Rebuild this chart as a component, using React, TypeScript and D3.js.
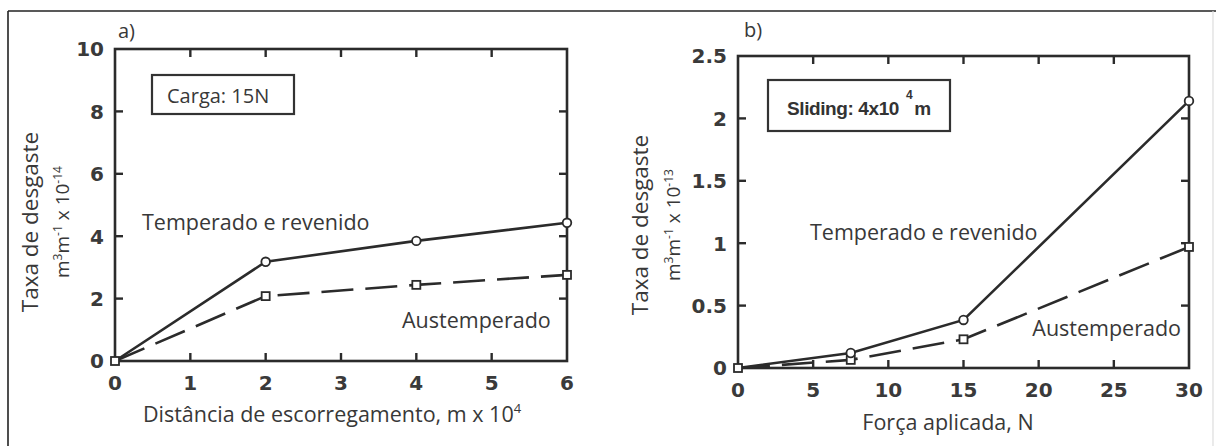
import React from "react";
import * as d3 from "d3";

// Panel a
const distA = [0, 2, 4, 6];
const temperadoA = [0, 3.18, 3.85, 4.43];
const austemperadoA = [0, 2.08, 2.44, 2.76];
const xTicksA = [0, 1, 2, 3, 4, 5, 6];
const yTicksA = [0, 2, 4, 6, 8, 10];

// Panel b
const forceB = [0, 7.5, 15, 30];
const temperadoB = [0, 0.12, 0.385, 2.14];
const austemperadoB = [0, 0.065, 0.23, 0.97];
const xTicksB = [0, 5, 10, 15, 20, 25, 30];
const yTicksB = [0, 0.5, 1, 1.5, 2, 2.5];
const yTickLabelsB = ["0", "0.5", "1", "1.5", "2", "2.5"];

const TICK_FONT = "'DejaVu Sans', 'Liberation Sans', Arial, sans-serif";
const BOX_FONT = "'Liberation Sans', Arial, sans-serif";
const TEXT_FONT = "'Open Sans', 'Noto Sans', sans-serif";
const INK = "#2b2b2b";
const TXT = "#383838";

type PanelProps = {
  left: number; right: number; top: number; bottom: number;
  xDomain: [number, number]; yDomain: [number, number];
  xTicks: number[]; yTicks: number[]; yLabels: string[];
  xs: number[]; s1: number[]; s2: number[];
};

function Panel(p: PanelProps) {
  const x = d3.scaleLinear().domain(p.xDomain).range([p.left, p.right]);
  const y = d3.scaleLinear().domain(p.yDomain).range([p.bottom, p.top]);
  const line = d3.line<[number, number]>().x(d => x(d[0])).y(d => y(d[1]));
  const d1 = p.xs.map((v, i) => [v, p.s1[i]] as [number, number]);
  const d2 = p.xs.map((v, i) => [v, p.s2[i]] as [number, number]);
  const tl = 8;
  return (
    <g>
      <rect x={p.left} y={p.top} width={p.right - p.left} height={p.bottom - p.top}
        fill="none" stroke={INK} strokeWidth={2.6} />
      {p.xTicks.slice(1, -1).map(t => (
        <g key={"xt" + t}>
          <line x1={x(t)} x2={x(t)} y1={p.bottom} y2={p.bottom - tl} stroke={INK} strokeWidth={2.4} />
          <line x1={x(t)} x2={x(t)} y1={p.top} y2={p.top + tl} stroke={INK} strokeWidth={2.4} />
        </g>
      ))}
      {p.yTicks.slice(1, -1).map(t => (
        <g key={"yt" + t}>
          <line x1={p.left} x2={p.left + tl} y1={y(t)} y2={y(t)} stroke={INK} strokeWidth={2.4} />
          <line x1={p.right} x2={p.right - tl} y1={y(t)} y2={y(t)} stroke={INK} strokeWidth={2.4} />
        </g>
      ))}
      {p.xTicks.map(t => (
        <text key={"xl" + t} x={x(t)} y={p.bottom + 29} textAnchor="middle"
          fontFamily={TICK_FONT} fontWeight="bold" fontSize={20} fill="#3a3a3a">{t}</text>
      ))}
      {p.yTicks.map((t, i) => (
        <text key={"yl" + t} x={p.left - 11} y={y(t) + 7.3} textAnchor="end"
          fontFamily={TICK_FONT} fontWeight="bold" fontSize={20} fill="#3a3a3a">{p.yLabels[i]}</text>
      ))}
      <path d={line(d2) || ""} fill="none" stroke={INK} strokeWidth={2.6} strokeDasharray="32 12" />
      <path d={line(d1) || ""} fill="none" stroke={INK} strokeWidth={2.6} />
      {d2.map((d, i) => (
        <rect key={"sq" + i} x={x(d[0]) - 4} y={y(d[1]) - 4} width={8} height={8}
          fill="#fff" stroke={INK} strokeWidth={1.8} />
      ))}
      {d1.slice(1).map((d, i) => (
        <circle key={"c" + i} cx={x(d[0])} cy={y(d[1])} r={4.3}
          fill="#fff" stroke={INK} strokeWidth={1.8} />
      ))}
    </g>
  );
}

export default function App() {
  return (
    <svg width={1216} height={446} style={{ position: "absolute", left: 0, top: 0, background: "#fff" }}>
      <rect x={0} y={0} width={1216} height={446} fill="#fff" />
      {/* outer frame */}
      <line x1={8} x2={1216} y1={11} y2={11} stroke="#222" strokeWidth={1.6} />
      <line x1={8} x2={8} y1={11} y2={446} stroke="#222" strokeWidth={1.6} />
      <line x1={1213} x2={1213} y1={11} y2={446} stroke="#ddd" strokeWidth={1.2} />

      {/* Panel a */}
      <Panel left={115} right={567} top={49} bottom={361}
        xDomain={[0, 6]} yDomain={[0, 10]}
        xTicks={xTicksA} yTicks={yTicksA} yLabels={yTicksA.map(String)}
        xs={distA} s1={temperadoA} s2={austemperadoA} />
      <text x={118} y={38} fontFamily={TEXT_FONT} fontSize={20} fill={TXT}>a)</text>
      <rect x={152} y={75} width={142} height={39} fill="none" stroke="#333" strokeWidth={2.2} />
      <text x={167} y={103} fontFamily={TEXT_FONT} fontSize={20} fill={TXT}>Carga: 15N</text>
      <text x={142} y={230} fontFamily={TEXT_FONT} fontSize={21.5} fill={TXT}>Temperado e revenido</text>
      <text x={402} y={328} fontFamily={TEXT_FONT} fontSize={21.5} fill={TXT}>Austemperado</text>
      <text transform="translate(38,222) rotate(-90)" textAnchor="middle"
        fontFamily={TEXT_FONT} fontSize={22.5} fill={TXT}>Taxa de desgaste</text>
      <text transform="translate(69,222) rotate(-90)" textAnchor="middle"
        fontFamily={TEXT_FONT} fontSize={19} fill={TXT}>
        m<tspan dy={-7} fontSize={12}>3</tspan><tspan dy={7}>m</tspan><tspan dy={-7} fontSize={12}>-1</tspan><tspan dy={7}> x 10</tspan><tspan dy={-7} fontSize={12}>-14</tspan>
      </text>
      <text x={332} y={422} textAnchor="middle" fontFamily={TEXT_FONT} fontSize={21.5} fill={TXT}>
        Distância de escorregamento, m x 10<tspan dy={-9} fontSize={13}>4</tspan>
      </text>

      {/* Panel b */}
      <Panel left={738} right={1189} top={56} bottom={368}
        xDomain={[0, 30]} yDomain={[0, 2.5]}
        xTicks={xTicksB} yTicks={yTicksB} yLabels={yTickLabelsB}
        xs={forceB} s1={temperadoB} s2={austemperadoB} />
      <text x={744} y={37} fontFamily={TEXT_FONT} fontSize={20} fill={TXT}>b)</text>
      <rect x={768} y={80} width={182} height={51} fill="none" stroke="#333" strokeWidth={2.2} />
      <text x={787} y={115} fontFamily={BOX_FONT} fontWeight="bold" fontSize={19} fill="#333" letterSpacing={-0.4}>
        Sliding: 4x10<tspan dx={7} dy={-16} fontSize={12}>4</tspan><tspan dx={2} dy={16}>m</tspan>
      </text>
      <text x={810} y={240} fontFamily={TEXT_FONT} fontSize={21.5} fill={TXT}>Temperado e revenido</text>
      <text x={1181} y={336} textAnchor="end" fontFamily={TEXT_FONT} fontSize={21.5} fill={TXT}>Austemperado</text>
      <text transform="translate(648,225) rotate(-90)" textAnchor="middle"
        fontFamily={TEXT_FONT} fontSize={22.5} fill={TXT}>Taxa de desgaste</text>
      <text transform="translate(680,225) rotate(-90)" textAnchor="middle"
        fontFamily={TEXT_FONT} fontSize={19} fill={TXT}>
        m<tspan dy={-7} fontSize={12}>3</tspan><tspan dy={7}>m</tspan><tspan dy={-7} fontSize={12}>-1</tspan><tspan dy={7}> x 10</tspan><tspan dy={-7} fontSize={12}>-13</tspan>
      </text>
      <text x={948} y={430} textAnchor="middle" fontFamily={TEXT_FONT} fontSize={21.5} fill={TXT}>Força aplicada, N</text>
    </svg>
  );
}
